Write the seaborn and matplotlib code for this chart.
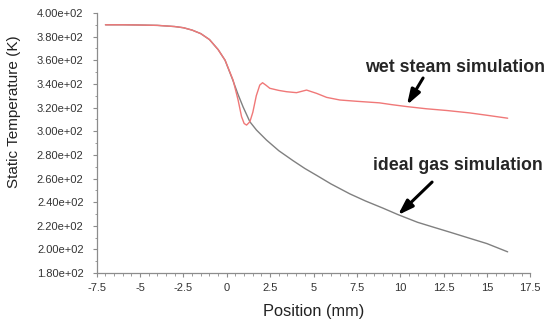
import numpy as np
import pandas as pd
import matplotlib
matplotlib.use("Agg")
import matplotlib.pyplot as plt
import seaborn as sns
from matplotlib.ticker import MultipleLocator, FuncFormatter

# -------------------------------
# data
# -------------------------------
ideal_x = [-7, -6, -5, -4, -3, -2.5, -2, -1.5, -1, -0.5, -0.1, 0.35, 0.65, 0.94, 1.33,
           1.71, 2.29, 3.0, 3.83, 4.5, 5.2, 6, 7.1, 8, 9, 9.87, 11, 12, 12.9, 14, 15, 16.2]
ideal_t = [390, 390, 389.8, 389.5, 388.5, 387.5, 385.5, 382.5, 377.5, 369, 360, 343,
           331, 320.5, 308, 301, 292.5, 283.5, 275, 268.5, 262.5, 255.5, 247, 241,
           235, 229.5, 223, 218.5, 214.5, 209.5, 205, 198]

wet_x = [-7, -6, -5, -4, -3, -2.5, -2, -1.5, -1, -0.5, -0.1, 0.36, 0.65, 0.85, 1.0,
         1.14, 1.33, 1.5, 1.7, 1.9, 2.06, 2.25, 2.48, 3.0, 3.45, 4.02, 4.6, 5.18, 5.76,
         6.52, 7.5, 8.8, 9.5, 10.4, 11.5, 12.7, 14, 15, 16.2]
wet_t = [390, 390, 389.8, 389.5, 388.5, 387.5, 385.5, 382.5, 377.5, 369, 360, 343.3,
         326.4, 312.3, 306.5, 305.2, 308, 316, 330, 339, 341, 339, 336.3, 334.5, 333.4,
         332.6, 334.8, 332, 328.6, 326.4, 325.3, 324, 322.5, 320.8, 319, 317.5, 315.5,
         313.5, 311]

ideal_df = pd.DataFrame({'pos': ideal_x, 'T': ideal_t})
wet_df = pd.DataFrame({'pos': wet_x, 'T': wet_t})

# -------------------------------
# plot
# -------------------------------
sns.set_style('ticks')
plt.rcParams['font.family'] = ['Liberation Sans', 'DejaVu Sans']

fig = plt.figure(figsize=(5.5, 3.24), dpi=100)
ax = fig.add_axes([0.176, 0.157, 0.788, 0.803])

sns.lineplot(data=ideal_df, x='pos', y='T', ax=ax, color='#808080', linewidth=1.0, sort=False)
sns.lineplot(data=wet_df, x='pos', y='T', ax=ax, color='#f07878', linewidth=1.0, sort=False)

ax.set_xlim(-7.5, 17.5)
ax.set_ylim(180, 400)
ax.xaxis.set_major_locator(MultipleLocator(2.5))
ax.xaxis.set_minor_locator(MultipleLocator(0.5))
ax.yaxis.set_major_locator(MultipleLocator(20))
ax.yaxis.set_minor_locator(MultipleLocator(10))
ax.xaxis.set_major_formatter(FuncFormatter(lambda v, p: '%g' % v))
ax.yaxis.set_major_formatter(FuncFormatter(lambda v, p: '%.2e' % v))

sns.despine(ax=ax)
for s in ['left', 'bottom']:
    ax.spines[s].set_color('#8c8c8c')
    ax.spines[s].set_linewidth(0.9)
ax.tick_params(which='major', length=3, width=0.8, color='#8c8c8c', labelsize=8, labelcolor='#333333')
ax.tick_params(which='minor', length=1.8, width=0.6, color='#8c8c8c')
ax.tick_params(axis='y', which='major', pad=6.5)
ax.tick_params(axis='x', which='major', pad=4)

ax.set_xlabel('Position (mm)', fontsize=11.8, color='#222222')
ax.set_ylabel('Static Temperature (K)', fontsize=11, color='#222222')
ax.xaxis.set_label_coords(0.5, -0.12)
ax.yaxis.set_label_coords(-0.176, 0.62)

# annotations
arrow = dict(arrowstyle='-|>,head_length=0.9,head_width=0.3', color='black', lw=2.2,
             mutation_scale=10, shrinkA=0, shrinkB=0)
ax.text(13.16, 354.3, 'wet steam simulation', fontsize=12.8, fontweight='bold',
        ha='center', va='center')
ax.annotate('', xy=(10.39, 322.2), xytext=(11.32, 345.0), arrowprops=arrow)
ax.text(13.31, 271.4, 'ideal gas simulation', fontsize=12.8, fontweight='bold',
        ha='center', va='center')
ax.annotate('', xy=(9.87, 229.1), xytext=(11.84, 257.0), arrowprops=arrow)

fig.savefig('out.png', dpi=100)
